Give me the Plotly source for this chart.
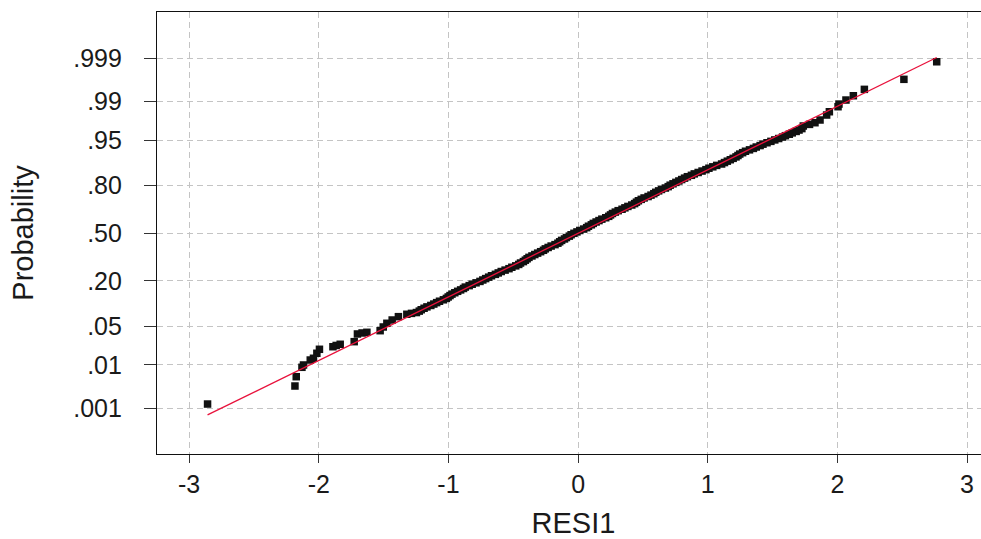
import plotly.graph_objects as go
from statistics import NormalDist

# ---- data (residual value, cumulative probability) ----
resid = [
    -2.858, -2.184, -2.174, -2.130, -2.118, -2.066, -2.041, -2.015, -1.995, -1.891,
    -1.866, -1.835, -1.727, -1.702, -1.666, -1.629, -1.527, -1.503, -1.475, -1.434,
    -1.386, -1.321, -1.285,
    -1.247, -1.225, -1.210, -1.188, -1.166, -1.136, -1.113, -1.091, -1.069, -1.039,
    -1.016, -1.002, -0.988, -0.973, -0.951, -0.929, -0.906, -0.884, -0.870, -0.840,
    -0.817, -0.787, -0.757, -0.735, -0.713, -0.690, -0.668, -0.638, -0.616, -0.593,
    -0.563, -0.533, -0.511, -0.481, -0.458, -0.444, -0.422, -0.407, -0.393, -0.379,
    -0.356, -0.334, -0.312, -0.289, -0.267, -0.253, -0.231, -0.208, -0.178, -0.156,
    -0.142, -0.127, -0.105, -0.090, -0.068, -0.054, -0.032, -0.009, 0.013, 0.043,
    0.066, 0.080, 0.102, 0.117, 0.139, 0.161, 0.183, 0.213, 0.236, 0.250,
    0.265, 0.287, 0.309, 0.339, 0.361, 0.384, 0.414, 0.436, 0.450, 0.465,
    0.487, 0.509, 0.540, 0.562, 0.584, 0.599, 0.621, 0.643, 0.673, 0.695,
    0.710, 0.732, 0.754, 0.777, 0.799, 0.821, 0.843, 0.874, 0.896, 0.926,
    0.956, 0.986, 1.009, 1.039, 1.069, 1.107, 1.129, 1.151, 1.174, 1.196,
    1.218, 1.233, 1.247, 1.269, 1.291, 1.322, 1.352, 1.374, 1.404, 1.426,
    1.457, 1.487, 1.517, 1.547, 1.577, 1.599, 1.629, 1.652, 1.682, 1.704,
    1.726, 1.737, 1.785, 1.827, 1.866, 1.917, 1.938, 2.005, 2.012, 2.066,
    2.123, 2.208, 2.513, 2.766,
]
probability = [
    0.00128, 0.00349, 0.00565, 0.00896, 0.01000, 0.01259, 0.01363, 0.01703, 0.02023, 0.02255,
    0.02377, 0.02497, 0.02778, 0.03766, 0.03915, 0.04014, 0.04268, 0.04898, 0.05595, 0.06281,
    0.07044, 0.07628, 0.07859,
    0.08076, 0.08463, 0.08851, 0.09266, 0.09680, 0.10122, 0.10565, 0.11036, 0.11507, 0.12007,
    0.12507, 0.13037, 0.13567, 0.14126, 0.14686, 0.15276, 0.15866, 0.16486, 0.17106, 0.17756,
    0.18406, 0.19086, 0.19766, 0.20476, 0.21186, 0.21924, 0.22663, 0.23429, 0.24196, 0.24990,
    0.25785, 0.26605, 0.27425, 0.28270, 0.29116, 0.29985, 0.30854, 0.31745, 0.32636, 0.33547,
    0.34458, 0.35387, 0.36317, 0.37263, 0.38209, 0.39169, 0.40129, 0.41101, 0.42074, 0.43056,
    0.44038, 0.45027, 0.46017, 0.47011, 0.48006, 0.49003, 0.50000, 0.50997, 0.51994, 0.52989,
    0.53983, 0.54973, 0.55962, 0.56944, 0.57926, 0.58899, 0.59871, 0.60831, 0.61791, 0.62737,
    0.63683, 0.64613, 0.65542, 0.66453, 0.67364, 0.68255, 0.69146, 0.70015, 0.70884, 0.71730,
    0.72575, 0.73395, 0.74215, 0.75010, 0.75804, 0.76571, 0.77337, 0.78076, 0.78814, 0.79524,
    0.80234, 0.80914, 0.81594, 0.82244, 0.82894, 0.83514, 0.84134, 0.84724, 0.85314, 0.85874,
    0.86433, 0.86963, 0.87493, 0.87993, 0.88493, 0.88964, 0.89435, 0.89878, 0.90320, 0.90735,
    0.91149, 0.91537, 0.91924, 0.92286, 0.92647, 0.92983, 0.93319, 0.93631, 0.93943, 0.94232,
    0.94520, 0.94787, 0.95053, 0.95298, 0.95543, 0.95769, 0.95994, 0.96201, 0.96407, 0.96596,
    0.96784, 0.97100, 0.97285, 0.97464, 0.97735, 0.98168, 0.98414, 0.98734, 0.98880, 0.99073,
    0.99246, 0.99451, 0.99674, 0.99878,
]

# fitted normal reference line (mean, standard deviation)
fit_mean = 0.0
fit_sd = 0.8906

ytick_probs = [0.001, 0.01, 0.05, 0.20, 0.50, 0.80, 0.95, 0.99, 0.999]
ytick_text = [".001", ".01", ".05", ".20", ".50", ".80", ".95", ".99", ".999"]
xtick_vals = [-3, -2, -1, 0, 1, 2, 3]
xtick_text = ["-3", "-2", "-1", "0", "1", "2", "3"]

# ---- normal-probability scale (probit) ----
nd = NormalDist()
y_pts = [nd.inv_cdf(p) for p in probability]
y_ticks = [nd.inv_cdf(p) for p in ytick_probs]
line_x = [min(resid), max(resid)]
line_y = [(v - fit_mean) / fit_sd for v in line_x]

FONT = "Liberation Sans, Arial, sans-serif"
TXT = "#1a1a1a"

fig = go.Figure()
fig.add_trace(go.Scatter(
    x=resid, y=y_pts, mode="markers",
    marker=dict(symbol="square", size=7.5, color="#111111", line=dict(width=0)),
    showlegend=False, hoverinfo="x+y",
))
fig.add_trace(go.Scatter(
    x=line_x, y=line_y, mode="lines",
    line=dict(color="#e8123c", width=1.3),
    showlegend=False, hoverinfo="skip",
))

# the plot frame runs past the right edge of the window, as in the reference
fig.update_layout(
    width=990, height=539,
    margin=dict(l=157, r=0, t=12, b=85),
    paper_bgcolor="white", plot_bgcolor="white",
    font=dict(family=FONT, color=TXT),
    xaxis=dict(
        range=[-3.248, 3.177], tickmode="array", tickvals=xtick_vals, ticktext=xtick_text,
        ticks="outside", ticklen=8, tickwidth=1, tickcolor="#333333",
        showline=True, linecolor="#111111", linewidth=1.2, mirror=True,
        showgrid=True, gridcolor="#c4c4c4", gridwidth=1, griddash="6px,4px",
        zeroline=False, tickfont=dict(size=25, family=FONT, color=TXT),
        title=dict(text="RESI1", font=dict(size=29, family=FONT, color=TXT), standoff=16),
        automargin=False,
    ),
    yaxis=dict(
        range=[-3.899, 3.910], tickmode="array", tickvals=y_ticks, ticktext=ytick_text,
        ticks="outside", ticklen=12, tickwidth=1, tickcolor="#333333",
        showline=True, linecolor="#111111", linewidth=1.2, mirror=False,
        showgrid=True, gridcolor="#c4c4c4", gridwidth=1, griddash="6px,4px",
        zeroline=False, tickfont=dict(size=25, family=FONT, color=TXT),
        ticklabelstandoff=17,
        title=dict(text="Probability", font=dict(size=29, family=FONT, color=TXT), standoff=31),
        automargin=False,
    ),
)

# drop the default 8px page margin so the figure sits at the window's top-left corner
fig.write_html(
    "out.html",
    config={"displayModeBar": False},
    post_script=(
        "document.body.style.margin='0';"
        "document.documentElement.style.overflow='hidden';"
        "document.body.style.overflow='hidden';"
    ),
)
